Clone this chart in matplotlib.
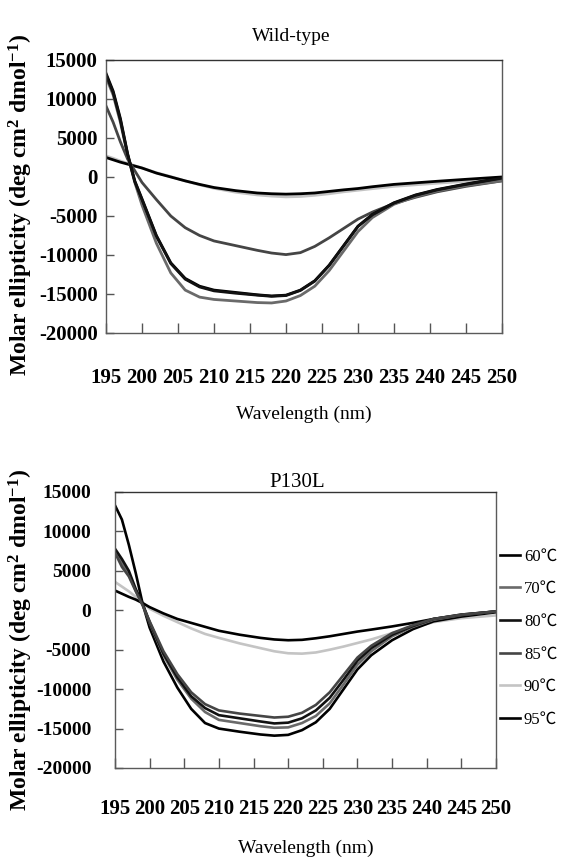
import matplotlib
matplotlib.use("Agg")
import matplotlib.pyplot as plt

wavelength = [195, 196, 197, 198, 199, 200, 202, 204, 206, 208, 210, 213, 216,
              218, 220, 222, 224, 226, 228, 230, 232, 235, 238, 241, 245, 250]

temps = ["60℃", "70℃", "80℃", "85℃", "90℃", "95℃"]

# Wild-type
wt_60 = [13300, 11000, 7500, 3000, -500, -2800, -7500, -11000, -13000, -14000, -14500, -14800, -15100,
         -15250, -15150, -14500, -13300, -11300, -8800, -6300, -4800, -3300, -2300, -1600, -900, -100]
wt_70 = [12800, 10500, 7000, 2800, -700, -3600, -8500, -12300, -14500, -15400, -15700, -15900, -16100,
         -16150, -15900, -15200, -14000, -12000, -9500, -7000, -5200, -3500, -2500, -1800, -1100, -500]
wt_80 = [13100, 10800, 7300, 2900, -600, -2900, -7600, -11100, -13100, -14100, -14600, -14900, -15150,
         -15300, -15200, -14550, -13350, -11350, -8850, -6350, -4850, -3350, -2350, -1650, -950, -150]
wt_85 = [9100, 7000, 4500, 2300, 800, -700, -2900, -5000, -6500, -7500, -8200, -8800, -9400,
         -9750, -9950, -9700, -8900, -7800, -6600, -5400, -4500, -3400, -2600, -1900, -1200, -500]
wt_90 = [2700, 2400, 2050, 1750, 1450, 1150, 550, 50, -500, -1000, -1450, -1950, -2300,
         -2450, -2550, -2500, -2350, -2150, -1900, -1700, -1500, -1200, -1000, -800, -550, -400]
wt_95 = [2500, 2200, 1900, 1650, 1400, 1150, 500, 0, -500, -950, -1350, -1750, -2050,
         -2150, -2200, -2150, -2050, -1850, -1650, -1480, -1250, -950, -750, -550, -300, 0]

# P130L
mt_60 = [13300, 11500, 8300, 4700, 800, -2200, -6500, -9800, -12500, -14300, -15000, -15400, -15750,
         -15900, -15800, -15200, -14200, -12500, -10000, -7500, -5700, -3800, -2400, -1400, -800, -250]
mt_70 = [7600, 6000, 4500, 2500, 700, -1600, -5700, -8800, -11200, -12900, -13900, -14300, -14700,
         -14900, -14850, -14300, -13400, -11800, -9400, -6900, -5200, -3300, -2100, -1200, -600, -150]
mt_80 = [7800, 6500, 5000, 2700, 800, -1500, -5500, -8500, -10900, -12400, -13300, -13700, -14100,
         -14350, -14250, -13700, -12700, -11100, -8800, -6400, -4800, -3100, -2000, -1100, -550, -150]
mt_85 = [7300, 5500, 4300, 2400, 600, -1400, -5200, -8100, -10400, -11900, -12700, -13100, -13400,
         -13600, -13500, -13000, -12000, -10400, -8200, -6000, -4500, -2900, -1900, -1100, -550, -150]
mt_90 = [3600, 3000, 2400, 1700, 1000, 200, -700, -1500, -2300, -3000, -3500, -4200, -4800,
         -5200, -5450, -5500, -5350, -5000, -4600, -4150, -3700, -2900, -2200, -1500, -1000, -650]
mt_95 = [2500, 2100, 1700, 1350, 900, 400, -400, -1100, -1600, -2100, -2600, -3100, -3500,
         -3700, -3800, -3750, -3550, -3300, -3000, -2700, -2450, -2050, -1600, -1100, -600, -150]

x_ticks = [195, 200, 205, 210, 215, 220, 225, 230, 235, 240, 245, 250]
y_ticks = [-20000, -15000, -10000, -5000, 0, 5000, 10000, 15000]

colors = ["#000000", "#6a6a6a", "#111111", "#454545", "#c4c4c4", "#000000"]

SERIF = ["Liberation Serif", "Noto Sans CJK SC", "DejaVu Serif"]
plt.rcParams["font.family"] = SERIF
plt.rcParams["axes.unicode_minus"] = False
plt.rcParams["mathtext.fontset"] = "custom"
plt.rcParams["mathtext.rm"] = "Liberation Serif:bold"
plt.rcParams["mathtext.bf"] = "Liberation Serif:bold"
plt.rcParams["mathtext.it"] = "Liberation Serif:bold"
plt.rcParams["mathtext.default"] = "bf"

fig = plt.figure(figsize=(5.62, 8.58), dpi=100)
ax1 = fig.add_axes([0.1886, 0.6119, 0.7046, 0.3182])
ax2 = fig.add_axes([0.2046, 0.1049, 0.6779, 0.3217])

ylabel = "Molar ellipticity (deg cm$^{2}$ dmol$^{-1}$)"


def style(ax, xpad, ypad, ysize):
    ax.set_xlim(195, 250)
    ax.set_ylim(-20000, 15000)
    ax.set_xticks(x_ticks)
    ax.set_yticks(y_ticks)
    ax.tick_params(axis="x", direction="in", length=7, width=1, pad=xpad,
                   labelsize=15, color="#555555")
    ax.tick_params(axis="y", direction="in", length=6, width=1, pad=ypad,
                   labelsize=ysize, color="#555555")
    for lab in ax.get_xticklabels() + ax.get_yticklabels():
        lab.set_fontweight("bold")
    for s in ax.spines.values():
        s.set_color("#5a5a5a")
        s.set_linewidth(1.0)
    ax.spines["top"].set_color("#333333")


wt_series = [wt_60, wt_70, wt_80, wt_85, wt_90, wt_95]
mt_series = [mt_60, mt_70, mt_80, mt_85, mt_90, mt_95]
for i in [4, 5, 3, 1, 0, 2]:
    ax1.plot(wavelength, wt_series[i], color=colors[i], lw=2.0, label=temps[i])
lines = {}
for i in [4, 5, 0, 1, 2, 3]:
    lines[i], = ax2.plot(wavelength, mt_series[i], color=colors[i], lw=1.9, label=temps[i])

style(ax1, 25, 6, 15)
style(ax2, 22, 17, 14)
ax1.set_title("Wild-type", fontsize=14, pad=14, x=0.467)
ax2.set_title("P130L", fontsize=15, pad=0, x=0.478)

ax1.set_xlabel("Wavelength (nm)", fontsize=14, labelpad=13)
ax2.set_xlabel("Wavelength (nm)", fontsize=14, labelpad=15)

fig.text(21 / 562, 1 - 205 / 858, ylabel, rotation=90, ha="center", va="center",
         fontsize=17, fontweight="bold")
fig.text(21 / 562, 1 - 640 / 858, ylabel, rotation=90, ha="center", va="center",
         fontsize=17, fontweight="bold")

leg = ax2.legend([lines[i] for i in range(6)], temps, loc="upper left",
                 bbox_to_anchor=(1.01, 0.795), frameon=False, fontsize=12,
                 handlelength=1.2, handletextpad=0.25, labelspacing=1.0,
                 borderaxespad=0.0, borderpad=0.0)
for t in leg.get_texts():
    t.set_family(SERIF)

fig.savefig("out.png", dpi=100)
